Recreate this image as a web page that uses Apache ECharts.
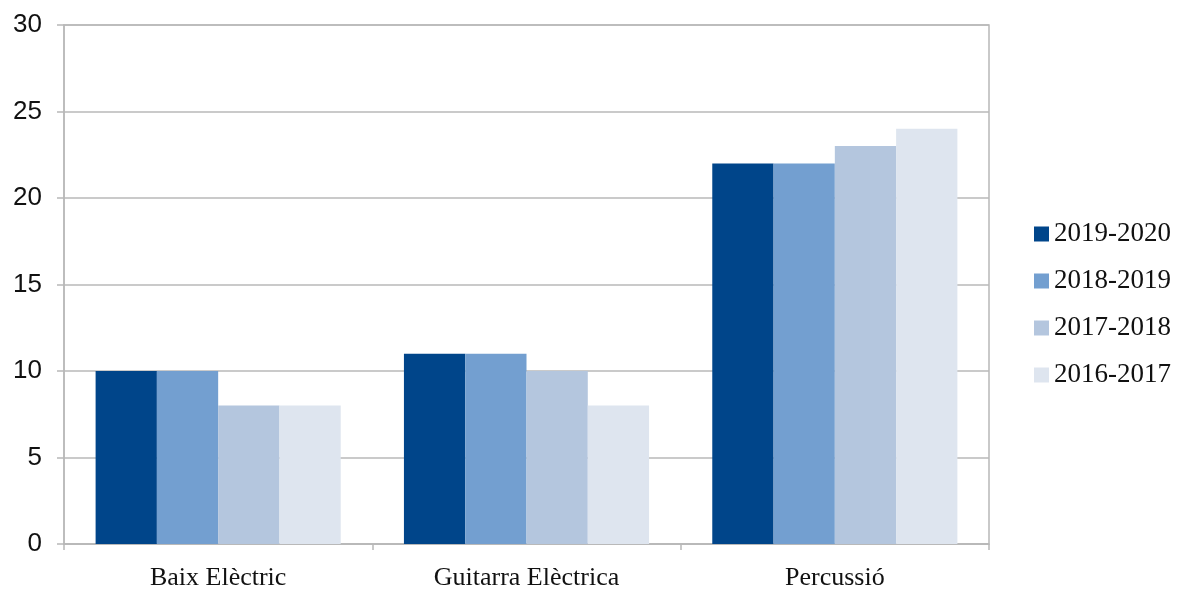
<!DOCTYPE html>
<html><head><meta charset="utf-8">
<script src="https://cdn.jsdelivr.net/npm/echarts@6/dist/echarts.min.js"></script>
<style>html,body{margin:0;padding:0;background:#fff}#c{width:1181px;height:591px}</style>
</head><body><div id="c"></div>
<script>
const categories = ['Baix Elèctric', 'Guitarra Elèctrica', 'Percussió'];
const seriesNames = ['2019-2020', '2018-2019', '2017-2018', '2016-2017'];
const s2019_2020 = [10, 11, 22];
const s2018_2019 = [10, 11, 22];
const s2017_2018 = [8, 10, 23];
const s2016_2017 = [8, 8, 24];
const seriesValues = [s2019_2020, s2018_2019, s2017_2018, s2016_2017];
const colors = ['#00458A', '#739FD0', '#B4C6DE', '#DEE5EF'];

const chart = echarts.init(document.getElementById('c'));
chart.setOption({
  animation: false,
  grid: {left: 64, right: 192, top: 25, bottom: 45, show: true, borderColor: '#B8B8B8', borderWidth: 1.5, containLabel: false},
  legend: {
    orient: 'vertical', left: 1029, top: 214, itemWidth: 15, itemHeight: 15, itemGap: 17,
    icon: 'rect',
    textStyle: {fontFamily: 'Liberation Serif', fontSize: 27, lineHeight: 30, color: '#111'},
    data: seriesNames
  },
  xAxis: {
    type: 'category', data: categories,
    axisLine: {lineStyle: {color: '#B8B8B8', width: 1.5}},
    axisTick: {show: true, length: 6, lineStyle: {color: '#B8B8B8', width: 1.5}},
    axisLabel: {fontFamily: 'Liberation Serif', fontSize: 26, color: '#111', margin: 21}
  },
  yAxis: {
    type: 'value', min: 0, max: 30, interval: 5,
    axisLine: {show: true, lineStyle: {color: '#B8B8B8', width: 1.5}},
    axisTick: {show: true, length: 7, lineStyle: {color: '#B8B8B8', width: 1.5}},
    splitLine: {lineStyle: {color: '#B8B8B8', width: 1.5}},
    axisLabel: {fontFamily: 'Liberation Sans', fontSize: 26, color: '#111', margin: 22}
  },
  series: seriesNames.map((n, i) => ({
    name: n, type: 'bar', data: seriesValues[i],
    itemStyle: {color: colors[i]},
    barGap: '0%', barCategoryGap: '20.5%'
  }))
});
</script></body></html>
